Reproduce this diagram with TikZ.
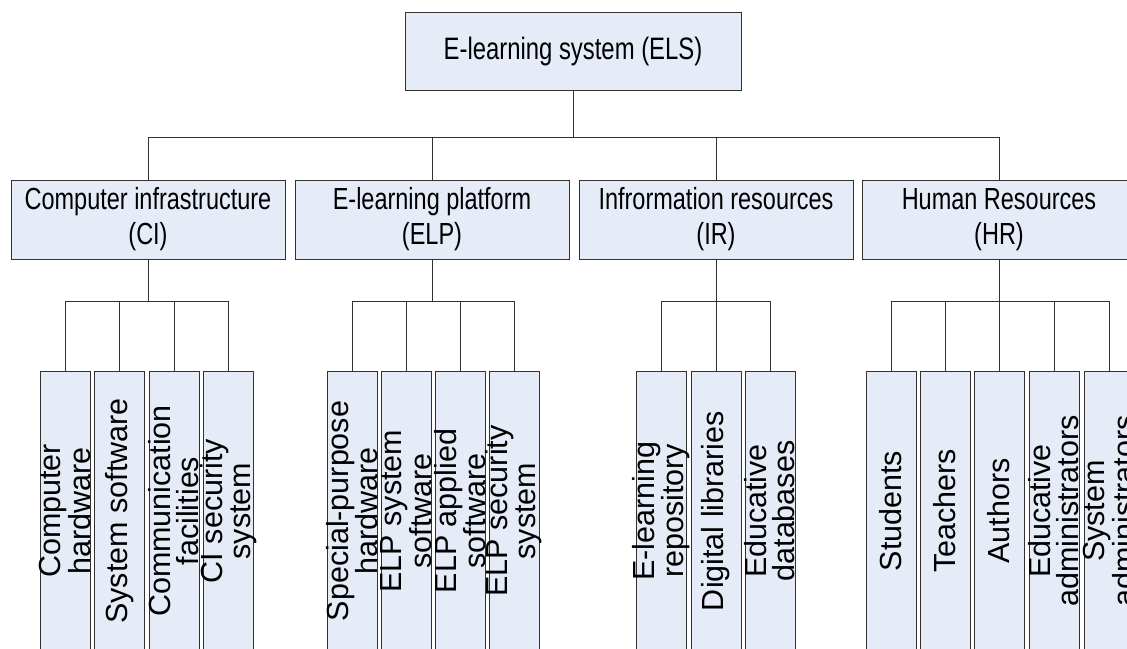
\documentclass[tikz,border=0pt]{standalone}
\usepackage{fontspec}
\setmainfont{Liberation Sans}
\newfontfamily\narrowsans[FakeStretch=0.77]{Liberation Sans}
\definecolor{boxfill}{RGB}{230,236,247}
\definecolor{edge}{RGB}{50,50,50}

\begin{document}
\begin{tikzpicture}[x=1pt,y=-1pt,
  box/.style={draw=edge, fill=boxfill, line width=1pt, inner sep=0pt, outer sep=0pt},
  topbox/.style={box, minimum width=336pt, minimum height=78pt,
    font=\narrowsans\fontsize{31}{36}\selectfont},
  midbox/.style={box, minimum width=274pt, minimum height=79pt, align=center,
    font=\narrowsans\fontsize{30.5}{35}\selectfont},
  leaf/.style={box, minimum width=50pt, minimum height=280pt},
  leaftext/.style={rotate=90, align=center, inner sep=0pt,
    font=\fontsize{30.5}{28}\selectfont},
  wire/.style={draw=edge, line width=1pt}]
\clip (0,0) rectangle (1127,648);
\useasboundingbox (0,0) rectangle (1127,648);

% bus levels
\coordinate (bus) at (0,137);
\coordinate (sub) at (0,301);

% root
\node[topbox] (els) at (573,51) {E-learning system (ELS)};

% subsystems
\node[midbox] (ci)  at (148,219.5) {Computer infrastructure\\(CI)};
\node[midbox] (elp) at (432,219.5) {E-learning platform\\(ELP)};
\node[midbox] (ir)  at (716,219.5) {Infrormation resources\\(IR)};
\node[midbox] (hr)  at (999,219.5) {Human Resources\\(HR)};

\draw[wire] (els.south) -- (els.south |- bus);
\draw[wire] (ci.north |- bus) -- (hr.north |- bus);
\foreach \n in {ci,elp,ir,hr}
  \draw[wire] (\n.north |- bus) -- (\n.north);

% components
\foreach \n/\x in {ci1/65, ci2/119.5, ci3/174, ci4/228.5,
                   elp1/352, elp2/406, elp3/460, elp4/514,
                   ir1/661, ir2/716, ir3/770,
                   hr1/891, hr2/945, hr3/999, hr4/1054, hr5/1109}
  \node[leaf] (\n) at (\x,511) {};

\node[leaftext] at (ci1) {Computer\\hardware};
\node[leaftext] at (ci2) {System software};
\node[leaftext] at (ci3) {Communication\\facilities};
\node[leaftext] at (ci4) {CI security\\system};
\node[leaftext] at (elp1) {Special-purpose\\hardware};
\node[leaftext] at (elp2) {ELP system\\software};
\node[leaftext] at (elp3) {ELP applied\\software};
\node[leaftext] at (elp4) {ELP security\\system};
\node[leaftext] at (ir1) {E-learning\\repository};
\node[leaftext] at (ir2) {Digital libraries};
\node[leaftext] at (ir3) {Educative\\databases};
\node[leaftext] at (hr1) {Students};
\node[leaftext] at (hr2) {Teachers};
\node[leaftext] at (hr3) {Authors};
\node[leaftext] at (hr4) {Educative\\administrators};
\node[leaftext] at (hr5) {System\\administrators};

% group connectors
\foreach \p/\a/\b/\list in {ci/ci1/ci4/{ci1,ci2,ci3,ci4},
                            elp/elp1/elp4/{elp1,elp2,elp3,elp4},
                            ir/ir1/ir3/{ir1,ir2,ir3},
                            hr/hr1/hr5/{hr1,hr2,hr3,hr4,hr5}} {
  \draw[wire] (\p.south) -- (\p.south |- sub);
  \draw[wire] (\a.north |- sub) -- (\b.north |- sub);
  \foreach \c in \list
    \draw[wire] (\c.north |- sub) -- (\c.north);
}
\end{tikzpicture}
\end{document}
